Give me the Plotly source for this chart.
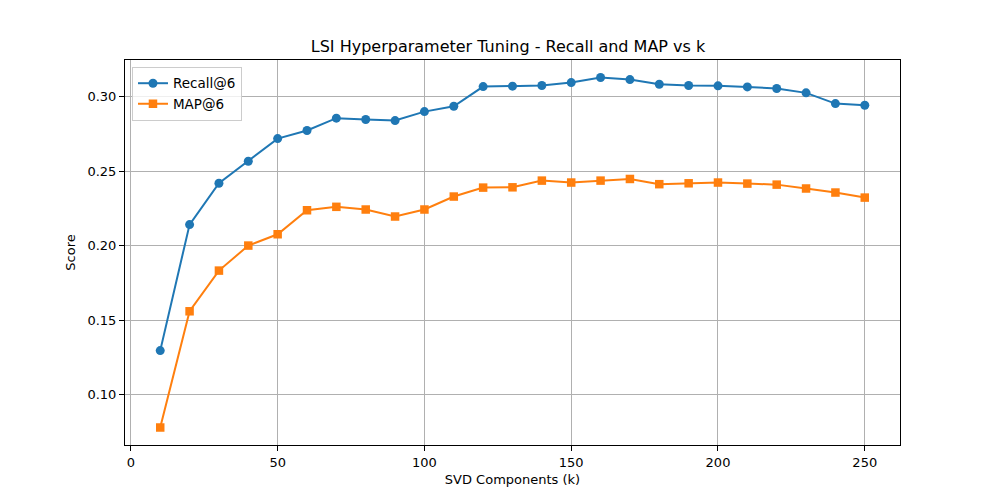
import plotly.graph_objects as go

k_values = [10, 20, 30, 40, 50, 60, 70, 80, 90, 100, 110, 120, 130, 140, 150,
            160, 170, 180, 190, 200, 210, 220, 230, 240, 250]
recall_at_6 = [0.1295, 0.2141, 0.2418, 0.2566, 0.2718, 0.2772, 0.2855, 0.2846,
               0.2839, 0.2899, 0.2935, 0.3067, 0.3070, 0.3074, 0.3094, 0.3128,
               0.3114, 0.3083, 0.3074, 0.3072, 0.3065, 0.3054, 0.3025, 0.2953,
               0.2942]
map_at_6 = [0.0779, 0.1559, 0.1832, 0.2000, 0.2076, 0.2237, 0.2260, 0.2242,
            0.2195, 0.2242, 0.2329, 0.2389, 0.2391, 0.2436, 0.2423, 0.2436,
            0.2447, 0.2412, 0.2418, 0.2423, 0.2416, 0.2409, 0.2383, 0.2356,
            0.2322]
x_ticks = [0, 50, 100, 150, 200, 250]
y_ticks = [0.10, 0.15, 0.20, 0.25, 0.30]

fig = go.Figure()
fig.add_trace(go.Scatter(x=k_values, y=recall_at_6, mode="lines+markers", name="Recall@6",
                         line=dict(color="#1f77b4", width=2),
                         marker=dict(symbol="circle", size=9, color="#1f77b4")))
fig.add_trace(go.Scatter(x=k_values, y=map_at_6, mode="lines+markers", name="MAP@6",
                         line=dict(color="#ff7f0e", width=2),
                         marker=dict(symbol="square", size=8.5, color="#ff7f0e")))

ymin = min(min(recall_at_6), min(map_at_6))
ymax = max(max(recall_at_6), max(map_at_6))
yr = ymax - ymin
xr = max(k_values) - min(k_values)

axis_common = dict(showline=True, linecolor="black", linewidth=1, mirror=True,
                   ticks="outside", ticklen=5, tickwidth=1, tickcolor="black",
                   showgrid=True, gridcolor="#b0b0b0", gridwidth=0.8, zeroline=False,
                   tickfont=dict(size=13, color="black"))

fig.update_layout(
    width=1000, height=500,
    margin=dict(l=117, r=108, t=52, b=63),
    paper_bgcolor="white", plot_bgcolor="white",
    font=dict(family="DejaVu Sans", color="black"),
    title=dict(text="LSI Hyperparameter Tuning - Recall and MAP vs k", x=0.5, xanchor="center",
               y=1 - 38/500, yanchor="middle", font=dict(size=16)),
    xaxis=dict(axis_common, range=[min(k_values) - 0.05*xr, max(k_values) + 0.05*xr],
               tickvals=x_ticks,
               title=dict(text="SVD Components (k)", font=dict(size=13), standoff=6)),
    yaxis=dict(axis_common, range=[ymin - 0.05*yr, ymax + 0.05*yr],
               tickvals=y_ticks, tickformat=".2f",
               title=dict(text="Score", font=dict(size=13), standoff=8)),
    legend=dict(x=0.009, y=0.982, xanchor="left", yanchor="top",
                bgcolor="rgba(255,255,255,0.8)", bordercolor="#cccccc", borderwidth=1,
                font=dict(size=13.5)),
)

fig.write_html("out.html")
